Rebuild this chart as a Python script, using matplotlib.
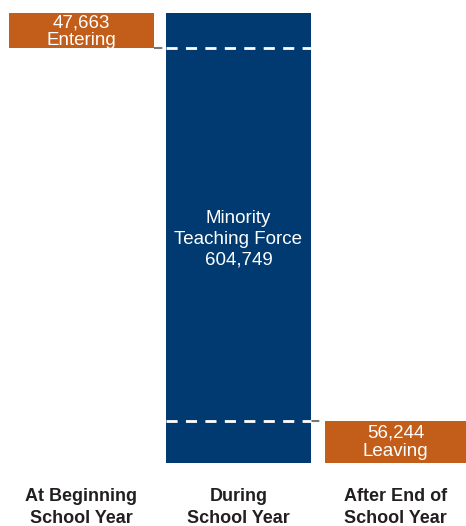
import matplotlib
matplotlib.use('Agg')
import matplotlib.pyplot as plt

plt.rcParams['font.family'] = ['Liberation Sans', 'DejaVu Sans']

categories = ['At Beginning\nSchool Year', 'During\nSchool Year', 'After End of\nSchool Year']
force = 604749
entering = 47663
leaving = 56244

orange = '#C25E1A'
navy = '#003A70'

fig = plt.figure(figsize=(4.66, 5.26), dpi=100)
# axes spans the bar: px 13 (top) to 463 (bottom)
ax = fig.add_axes([0, (526 - 463) / 526, 1, 450 / 526])
ax.set_xlim(-0.519, 2.449)
ax.set_ylim(0, force)

w = 0.924
ax.bar(1, force, width=w, color=navy, zorder=2)
ax.bar(0, entering, bottom=force - entering, width=w, color=orange, zorder=2)
ax.bar(2, leaving, bottom=0, width=0.9, color=orange, zorder=2)

# dashed connectors
y_top = force - entering
ax.plot([0 + w / 2, 1 - w / 2], [y_top, y_top], color='#777777', lw=1.5, ls=(0, (4, 3)), zorder=1)
ax.plot([1 - w / 2, 1 + w / 2], [y_top, y_top], color='white', lw=2, ls=(0, (4, 3)), zorder=3)
ax.plot([1 + w / 2, 2 - 0.45], [leaving, leaving], color='#777777', lw=1.5, ls=(0, (4, 3)), zorder=1)
ax.plot([1 - w / 2, 1 + w / 2], [leaving, leaving], color='white', lw=2, ls=(0, (4, 3)), zorder=3)

txt = dict(color='white', fontsize=13.5, ha='center', va='center', linespacing=1.1, zorder=4)
ax.text(0, force - entering / 2 - 1500, '{:,}\nEntering'.format(entering), **txt)
ax.text(2, leaving / 2 - 500, '{:,}\nLeaving'.format(leaving), **txt)
ax.text(1, force - 226 * force / 450, 'Minority\nTeaching Force\n{:,}'.format(force),
        color='white', fontsize=13.5, ha='center', va='center', linespacing=1.3, zorder=4)

ax.set_xticks([0, 1, 2])
ax.set_xticklabels(categories, fontsize=13, fontweight='bold', color='#231f20', linespacing=1.35)
ax.tick_params(axis='x', length=0, pad=18)
ax.set_yticks([])
for s in ax.spines.values():
    s.set_visible(False)

fig.savefig('out.png', dpi=100)
